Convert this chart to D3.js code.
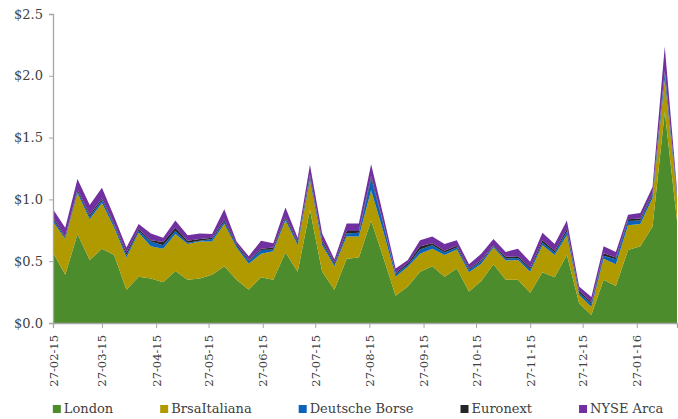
<!DOCTYPE html>
<html>
<head>
<meta charset="utf-8">
<script src="https://cdn.jsdelivr.net/npm/d3@7"></script>
<style>
  body { margin: 0; background: #fff; }
  svg { display: block; font-family: "DejaVu Serif", serif; }
</style>
</head>
<body>
<svg id="chart" width="678" height="419"></svg>
<script>
let weeks = ["27-02-15","06-03-15","13-03-15","20-03-15","27-03-15","03-04-15","10-04-15","17-04-15","24-04-15",
    "01-05-15","08-05-15","15-05-15","22-05-15","29-05-15","05-06-15","12-06-15","19-06-15","26-06-15",
    "03-07-15","10-07-15","17-07-15","24-07-15","31-07-15","07-08-15","14-08-15","21-08-15","28-08-15",
    "04-09-15","11-09-15","18-09-15","25-09-15","02-10-15","09-10-15","16-10-15","23-10-15","30-10-15",
    "06-11-15","13-11-15","20-11-15","27-11-15","04-12-15","11-12-15","18-12-15","25-12-15",
    "01-01-16","08-01-16","15-01-16","22-01-16","29-01-16","05-02-16","12-02-16","19-02-16"];

let tickDates = ["27-02-15","27-03-15","27-04-15","27-05-15","27-06-15","27-07-15",
    "27-08-15","27-09-15","27-10-15","27-11-15","27-12-15","27-01-16"];

let seriesNames = ["London", "BrsaItaliana", "Deutsche Borse", "Euronext", "NYSE Arca"];

let london = [0.57,0.39,0.72,0.51,0.60,0.55,0.27,0.375,0.36,0.33,0.42,0.35,0.36,0.39,0.46,0.35,0.27,0.37,
    0.35,0.57,0.415,0.915,0.415,0.27,0.52,0.53,0.83,0.53,0.22,0.295,0.415,0.46,0.375,0.44,0.255,0.34,
    0.475,0.35,0.35,0.245,0.41,0.37,0.55,0.16,0.065,0.35,0.30,0.59,0.62,0.78,1.71,0.83];
let brsaItaliana = [0.25,0.29,0.33,0.33,0.37,0.22,0.26,0.355,0.26,0.27,0.30,0.29,0.30,0.27,0.34,0.26,0.21,0.19,
    0.23,0.26,0.215,0.24,0.215,0.19,0.18,0.17,0.245,0.21,0.155,0.16,0.145,0.14,0.175,0.155,0.155,0.14,
    0.135,0.155,0.16,0.17,0.22,0.18,0.16,0.067,0.065,0.17,0.175,0.20,0.18,0.23,0.26,0.19];
let deutscheBorse = [0.02,0.01,0.015,0.02,0.025,0.02,0.02,0.015,0.04,0.03,0.025,0.01,0.005,0.02,0.02,0.015,0.02,0.03,
    0.015,0.015,0.015,0.025,0.02,0.015,0.025,0.03,0.095,0.06,0.02,0.015,0.035,0.03,0.02,0.015,0.02,0.02,
    0.01,0.015,0.015,0.02,0.02,0.02,0.03,0.018,0.025,0.025,0.04,0.035,0.03,0.025,0.05,0.02];
let euronext = [0.015,0.01,0.015,0.015,0.015,0.01,0.02,0.015,0.01,0.025,0.025,0.015,0.015,0.01,0.015,0.015,0.01,0.01,
    0.015,0.015,0.015,0.02,0.015,0.015,0.02,0.015,0.02,0.01,0.01,0.015,0.025,0.015,0.015,0.015,0.01,0.01,
    0.01,0.015,0.015,0.015,0.02,0.015,0.02,0.015,0.015,0.02,0.015,0.015,0.015,0.015,0.02,0.01];
let nyseArca = [0.065,0.07,0.085,0.08,0.085,0.06,0.04,0.04,0.055,0.035,0.06,0.045,0.045,0.03,0.085,0.02,0.03,0.065,
    0.035,0.075,0.03,0.08,0.06,0.025,0.06,0.06,0.095,0.06,0.035,0.025,0.05,0.055,0.055,0.045,0.035,0.05,
    0.05,0.04,0.06,0.045,0.06,0.055,0.07,0.035,0.04,0.055,0.045,0.035,0.045,0.05,0.195,0.03];

let yTicks = [0, 0.5, 1.0, 1.5, 2.0, 2.5];
let colors = ["#4c8c2d", "#b09a00", "#0a63b8", "#262626", "#7030a0"];

let parse = d3.timeParse("%d-%m-%y");
let svg = d3.select("#chart");
let margin = {top: 14, right: 1, bottom: 96, left: 53};
let width = +svg.attr("width") - margin.left - margin.right;
let height = +svg.attr("height") - margin.top - margin.bottom;
let g = svg.append("g").attr("transform", "translate(" + margin.left + "," + margin.top + ")");

let allSeries = [london, brsaItaliana, deutscheBorse, euronext, nyseArca];
let rows = weeks.map((w, i) => {
    let row = {date: parse(w)};
    seriesNames.forEach((name, k) => { row[name] = allSeries[k][i]; });
    return row;
});

let x = d3.scaleTime()
    .domain(d3.extent(rows, d => d.date))
    .range([0, width]);

let y = d3.scaleLinear()
    .domain([0, 2.5])
    .range([height, 0]);

let stacked = d3.stack().keys(seriesNames)(rows);

let area = d3.area()
    .x(d => x(d.data.date))
    .y0(d => y(d[0]))
    .y1(d => y(d[1]));

g.selectAll("path.layer")
    .data(stacked)
    .enter().append("path")
    .attr("class", "layer")
    .attr("d", area)
    .attr("fill", (d, i) => colors[i]);

// y axis
let yAxis = g.append("g")
    .call(d3.axisLeft(y).tickValues(yTicks).tickSize(4).tickPadding(6).tickFormat(d => "$" + d3.format(".1f")(d)));
yAxis.select(".domain").attr("stroke", "#a6a6a6").attr("stroke-width", 1.3);
yAxis.selectAll(".tick line").attr("stroke", "#a6a6a6");
yAxis.selectAll("text").attr("font-size", 13).attr("fill", "#404040").attr("font-family", "DejaVu Serif, serif");

// x axis
let xAxis = g.append("g")
    .attr("transform", "translate(0," + height + ")")
    .call(d3.axisBottom(x).tickValues(tickDates.map(parse)).tickSize(5).tickFormat(d3.timeFormat("%d-%m-%y")));
xAxis.select(".domain").attr("stroke", "#a6a6a6").attr("stroke-width", 1.3);
xAxis.selectAll(".tick line").attr("stroke", "#a6a6a6");
xAxis.selectAll("text")
    .attr("font-size", 11.5)
    .attr("fill", "#404040")
    .attr("font-family", "DejaVu Serif, serif")
    .attr("transform", "rotate(-90)")
    .attr("text-anchor", "end")
    .attr("x", -12)
    .attr("y", 0)
    .attr("dy", "0.35em");

// legend
let legend = svg.append("g")
    .attr("font-size", 13)
    .attr("fill", "#404040");
let items = legend.selectAll("g")
    .data(seriesNames)
    .enter().append("g");
items.append("rect")
    .attr("y", -8)
    .attr("width", 8)
    .attr("height", 8)
    .attr("fill", (d, i) => colors[i]);
items.append("text")
    .attr("x", 11)
    .attr("y", 0)
    .text(d => d);

let gap = 47;
let widths = [];
items.each(function () { widths.push(11 + this.querySelector("text").getComputedTextLength()); });
let total = d3.sum(widths) + gap * (widths.length - 1);
let pos = 358 - total / 2;
items.attr("transform", (d, i) => {
    let t = "translate(" + pos + ",413)";
    pos += widths[i] + gap;
    return t;
});
</script>
</body>
</html>
